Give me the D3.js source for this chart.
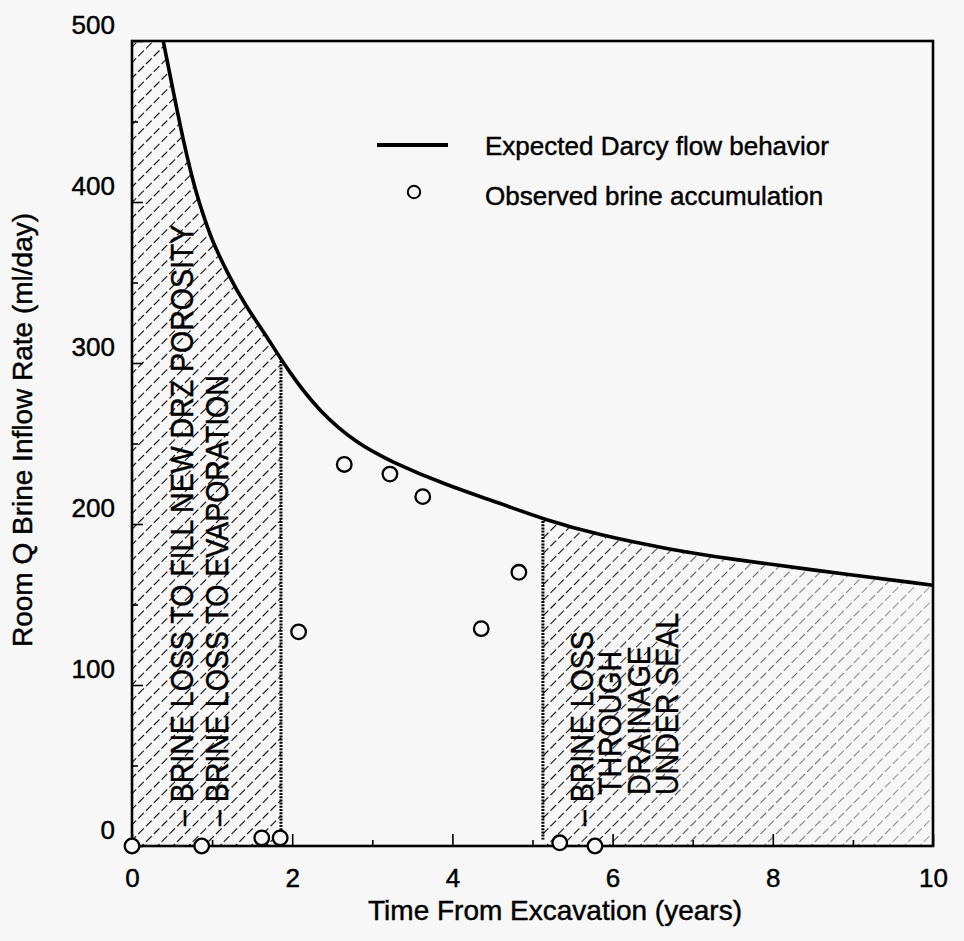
<!DOCTYPE html>
<html>
<head>
<meta charset="utf-8">
<script src="https://cdn.jsdelivr.net/npm/d3@7"></script>
<style>
  html, body { margin: 0; padding: 0; background: #f7f7f7; }
  svg { display: block; font-family: "Liberation Sans", Arial, Helvetica, sans-serif; }
  svg text { stroke: #000; stroke-width: 0.45px; fill: #000; }
</style>
</head>
<body>
<div id="viz"></div>
<script>
// expected Darcy flow curve (years, ml/day)
const curveT = [0.39, 0.51, 0.64, 0.79, 0.91, 1.0, 1.19, 1.41, 1.69, 1.95, 2.35, 2.81, 3.22, 3.93, 4.59, 5.13, 5.84, 6.68, 7.5, 8.34, 10];
const curveQ = [500, 470, 438, 407, 389, 376, 356, 336, 316, 295, 269, 250, 239, 224, 213, 203, 193, 184.5, 178, 172.5, 162];
// observed brine accumulation
const obsT = [0, 0.87, 1.62, 1.85, 2.08, 2.65, 3.22, 3.63, 4.36, 4.83, 5.34, 5.78];
const obsQ = [0, 0, 5, 5, 133, 237, 231, 217, 135, 170, 2, 0];
// shaded zones (start, end in years)
const zoneStart = [0, 5.13];
const zoneEnd = [1.86, 10];
const zoneText = [
    ["\u2013 BRINE LOSS TO FILL NEW DRZ POROSITY", "\u2013 BRINE LOSS TO EVAPORATION"],
    ["\u2013 BRINE LOSS", "THROUGH", "DRAINAGE", "UNDER SEAL"]
];
const xTicks = [0, 2, 4, 6, 8, 10];
const yTicks = [0, 100, 200, 300, 400, 500];

const W = 964, H = 941;
const m = {left: 132, right: 31, top: 41, bottom: 95};

const x = d3.scaleLinear().domain([0, 10]).range([m.left, W - m.right]);
const y = d3.scaleLinear().domain([0, 500]).range([H - m.bottom, m.top]);

const svg = d3.select('#viz').append('svg')
    .attr('width', W)
    .attr('height', H);

svg.append('rect').attr('width', W).attr('height', H).attr('fill', '#f7f7f7');

const defs = svg.append('defs');

const pat = defs.append('pattern')
    .attr('id', 'hatch')
    .attr('patternUnits', 'userSpaceOnUse')
    .attr('width', 11).attr('height', 11)
    .attr('patternTransform', 'rotate(45)');
pat.append('line')
    .attr('x1', 5.5).attr('y1', 0).attr('x2', 5.5).attr('y2', 11)
    .attr('stroke', '#000').attr('stroke-width', 1.1)
    .attr('stroke-dasharray', '8 3');

// fade for the right zone
const grad = defs.append('linearGradient')
    .attr('id', 'fade')
    .attr('gradientUnits', 'userSpaceOnUse')
    .attr('x1', x(5.13)).attr('x2', x(10)).attr('y1', 0).attr('y2', 0);
grad.append('stop').attr('offset', 0).attr('stop-color', '#fff').attr('stop-opacity', 1);
grad.append('stop').attr('offset', 0.3).attr('stop-color', '#fff').attr('stop-opacity', 0.7);
grad.append('stop').attr('offset', 1).attr('stop-color', '#fff').attr('stop-opacity', 0.35);
defs.append('mask').attr('id', 'fadeMask')
    .attr('maskUnits', 'userSpaceOnUse')
    .attr('x', 0).attr('y', 0).attr('width', W).attr('height', H)
    .append('rect')
    .attr('x', 0).attr('y', 0).attr('width', W).attr('height', H)
    .attr('fill', 'url(#fade)');

const curveData = curveT.map((t, i) => ({t: t, q: curveQ[i]}));

// region under the curve
const under = defs.append('clipPath').attr('id', 'under');
under.append('path')
    .attr('d', d3.area()
        .x(d => x(d.t))
        .y0(y(0))
        .y1(d => y(d.q))
        .curve(d3.curveBasis)(curveData));
under.append('rect')
    .attr('x', x(0)).attr('y', y(500))
    .attr('width', x(curveT[0]) - x(0)).attr('height', y(0) - y(500));

const zones = svg.append('g').attr('clip-path', 'url(#under)');
zones.selectAll('rect.zone')
    .data(zoneStart)
    .enter()
    .append('rect')
    .attr('class', 'zone')
    .attr('x', d => x(d))
    .attr('y', y(500))
    .attr('width', (d, i) => x(zoneEnd[i]) - x(d))
    .attr('height', y(0) - y(500))
    .attr('fill', 'url(#hatch)')
    .attr('mask', (d, i) => i == 1 ? 'url(#fadeMask)' : null);

// dotted zone boundaries
const bounds = [zoneEnd[0], zoneStart[1]];
zones.selectAll('line.bound')
    .data(bounds)
    .enter()
    .append('line')
    .attr('class', 'bound')
    .attr('x1', d => x(d)).attr('x2', d => x(d))
    .attr('y1', y(500)).attr('y2', y(4))
    .attr('stroke', '#000').attr('stroke-width', 3)
    .attr('stroke-dasharray', '2 1.2');

// curve
svg.append('path')
    .datum(curveData)
    .attr('fill', 'none')
    .attr('stroke', '#000')
    .attr('stroke-width', 3.6)
    .attr('d', d3.line().x(d => x(d.t)).y(d => y(d.q)).curve(d3.curveBasis));

// frame
svg.append('rect')
    .attr('x', x(0)).attr('y', y(500))
    .attr('width', x(10) - x(0)).attr('height', y(0) - y(500))
    .attr('fill', 'none').attr('stroke', '#000').attr('stroke-width', 2.6);

// axes, ticks pointing inward
const xMinor = svg.append('g').attr('transform', `translate(0,${y(0)})`)
    .call(d3.axisBottom(x).tickValues(d3.range(1, 10, 2)).tickSize(-6).tickFormat(''));
const xAxis = svg.append('g').attr('transform', `translate(0,${y(0)})`)
    .call(d3.axisBottom(x).tickValues(xTicks).tickSize(-12).tickPadding(23).tickFormat(d3.format('d')));
const yMinor = svg.append('g').attr('transform', `translate(${x(0)},0)`)
    .call(d3.axisLeft(y).tickValues(d3.range(50, 500, 100)).tickSize(-6).tickFormat(''));
const yAxis = svg.append('g').attr('transform', `translate(${x(0)},0)`)
    .call(d3.axisLeft(y).tickValues(yTicks).tickSize(-11).tickPadding(17).tickFormat(d3.format('d')));

[xMinor, xAxis, yMinor, yAxis].forEach(g => {
    g.select('.domain').remove();
    g.selectAll('.tick line').attr('stroke', '#000').attr('stroke-width', 1.6);
});
xAxis.selectAll('text').attr('font-size', 26).attr('fill', '#000').attr('font-family', null);
yAxis.selectAll('text').attr('font-size', 26).attr('fill', '#000').attr('font-family', null)
    .attr('y', -16);

// zone annotations
const annot = [
    {x0: 193, dx: 35, y0: 826, t: zoneText[0], indent: [0, 0]},
    {x0: 593, dx: 28.3, y0: 826, t: zoneText[1], indent: [0, 31, 31, 31]}
];
annot.forEach(a => {
    svg.selectAll(null)
        .data(a.t)
        .enter()
        .append('text')
        .attr('transform', (d, i) => `translate(${a.x0 + i * a.dx},${a.y0 - a.indent[i]}) rotate(-90) scale(0.92,1)`)
        .attr('font-size', 31)
        .text(d => d);
});

// observed points
svg.selectAll('circle.obs')
    .data(obsT)
    .enter()
    .append('circle')
    .attr('class', 'obs')
    .attr('cx', d => x(d))
    .attr('cy', (d, i) => y(obsQ[i]))
    .attr('r', 7.3)
    .attr('fill', '#f7f7f7')
    .attr('stroke', '#000')
    .attr('stroke-width', 2.3);

// legend
const lg = svg.append('g');
lg.append('line')
    .attr('x1', 377).attr('x2', 448).attr('y1', 145).attr('y2', 145)
    .attr('stroke', '#000').attr('stroke-width', 4);
lg.append('text').attr('x', 485).attr('y', 155).attr('font-size', 26).text('Expected Darcy flow behavior');
lg.append('circle').attr('cx', 414).attr('cy', 192).attr('r', 6.2)
    .attr('fill', 'none').attr('stroke', '#000').attr('stroke-width', 2);
lg.append('text').attr('x', 485).attr('y', 205).attr('font-size', 26).text('Observed brine accumulation');

// axis titles
svg.append('text')
    .attr('x', 555).attr('y', 920)
    .attr('text-anchor', 'middle')
    .attr('font-size', 28)
    .text('Time From Excavation (years)');
svg.append('text')
    .attr('transform', 'translate(32,430) rotate(-90)')
    .attr('text-anchor', 'middle')
    .attr('font-size', 28)
    .text('Room Q Brine Inflow Rate (ml/day)');
</script>
</body>
</html>
